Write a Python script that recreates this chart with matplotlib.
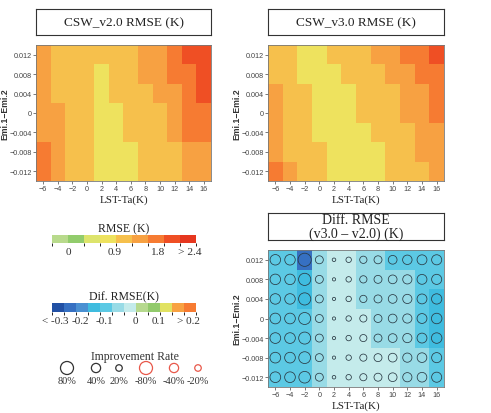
import numpy as np
import matplotlib
matplotlib.use("Agg")
import matplotlib.pyplot as plt
import matplotlib as mpl
from matplotlib.colors import ListedColormap, BoundaryNorm

SERIF = "Liberation Serif"
SANS = "Liberation Sans"

lst_ta = [-6, -4, -2, 0, 2, 4, 6, 8, 10, 12, 14, 16]
emi_diff = [-0.012, -0.008, -0.004, 0, 0.004, 0.008, 0.012]
emi_labels = ["\u22120.012", "\u22120.008", "\u22120.004", "0", "0.004", "0.008", "0.012"]

# rows from top (0.012) to bottom (-0.012)
rmse_v20 = [
    [1.35, 1.05, 1.05, 1.05, 1.05, 1.05, 1.05, 1.35, 1.35, 1.65, 1.95, 1.95],
    [1.35, 1.05, 1.05, 1.05, 0.75, 1.05, 1.05, 1.35, 1.35, 1.65, 1.65, 1.95],
    [1.35, 1.05, 1.05, 1.05, 0.75, 1.05, 1.05, 1.05, 1.35, 1.35, 1.65, 1.95],
    [1.35, 1.35, 1.05, 1.05, 0.75, 0.75, 1.05, 1.05, 1.05, 1.35, 1.65, 1.65],
    [1.35, 1.35, 1.05, 1.05, 0.75, 0.75, 1.05, 1.05, 1.05, 1.35, 1.65, 1.65],
    [1.65, 1.35, 1.05, 1.05, 0.75, 0.75, 0.75, 1.05, 1.05, 1.05, 1.35, 1.35],
    [1.65, 1.35, 1.05, 1.05, 0.75, 0.75, 0.75, 1.05, 1.05, 1.05, 1.35, 1.35],
]
rmse_v30 = [
    [1.05, 1.05, 0.75, 0.75, 1.05, 1.05, 1.05, 1.35, 1.35, 1.65, 1.65, 1.95],
    [1.05, 1.05, 0.75, 0.75, 0.75, 1.05, 1.05, 1.05, 1.35, 1.35, 1.65, 1.65],
    [1.35, 1.05, 1.05, 0.75, 0.75, 0.75, 1.05, 1.05, 1.05, 1.35, 1.35, 1.65],
    [1.35, 1.05, 1.05, 0.75, 0.75, 0.75, 1.05, 1.05, 1.05, 1.35, 1.35, 1.65],
    [1.35, 1.05, 1.05, 0.75, 0.75, 0.75, 0.75, 1.05, 1.05, 1.05, 1.35, 1.35],
    [1.35, 1.05, 1.05, 1.05, 0.75, 0.75, 0.75, 0.75, 1.05, 1.05, 1.35, 1.35],
    [1.65, 1.35, 1.05, 1.05, 0.75, 0.75, 0.75, 0.75, 1.05, 1.05, 1.05, 1.35],
]
diff_rmse = [
    [-0.12, -0.12, -0.27, -0.07, -0.02, -0.02, -0.07, -0.07, -0.12, -0.12, -0.12, -0.12],
    [-0.12, -0.12, -0.17, -0.07, -0.02, -0.02, -0.07, -0.07, -0.07, -0.07, -0.12, -0.12],
    [-0.12, -0.12, -0.17, -0.07, -0.02, -0.02, -0.07, -0.07, -0.07, -0.07, -0.12, -0.17],
    [-0.12, -0.12, -0.12, -0.07, -0.02, -0.02, -0.02, -0.07, -0.07, -0.07, -0.12, -0.17],
    [-0.12, -0.12, -0.12, -0.07, -0.02, -0.02, -0.02, -0.07, -0.07, -0.07, -0.12, -0.17],
    [-0.12, -0.12, -0.12, -0.07, -0.02, -0.02, -0.02, -0.02, -0.02, -0.07, -0.07, -0.12],
    [-0.12, -0.12, -0.12, -0.07, -0.02, -0.02, -0.02, -0.02, -0.02, -0.07, -0.07, -0.12],
]
# improvement rate (%)
improve_rate = [
    [52, 52, 82, 30, 6, 14, 25, 30, 36, 42, 46, 48],
    [52, 52, 70, 30, 5, 14, 25, 30, 36, 40, 46, 48],
    [52, 52, 70, 30, 5, 14, 25, 30, 36, 40, 46, 50],
    [54, 54, 68, 30, 5, 14, 24, 30, 36, 40, 46, 52],
    [54, 54, 68, 30, 5, 14, 24, 30, 36, 40, 46, 52],
    [54, 54, 66, 30, 5, 14, 24, 30, 36, 40, 44, 48],
    [54, 54, 64, 30, 6, 14, 24, 30, 36, 40, 44, 48],
]

rmse_levels = [-0.3, 0, 0.3, 0.6, 0.9, 1.2, 1.5, 1.8, 2.1, 2.4]
rmse_colors = ["#b8da8c", "#92cc6c", "#dde46c", "#eee25e", "#f6c04c",
               "#f7a142", "#f67b32", "#ef4f24", "#e6371f"]
rmse_tick_pos = [0, 0.88, 1.68, 2.29]
rmse_tick_labels = ["0", "0.9", "1.8", "> 2.4"]

dif_levels = [-0.35, -0.3, -0.25, -0.2, -0.15, -0.1, -0.05, 0, 0.05, 0.1, 0.15, 0.2, 0.25]
dif_colors = ["#2150a4", "#3670c2", "#4a90d2", "#3fbcdf", "#5cc9e4", "#98dbe6",
              "#c4ebeb", "#b6d98e", "#92ca6c", "#e1e262", "#f8a242", "#f77b32"]
dif_tick_pos = [-0.335, -0.23, -0.133, -0.004, 0.092, 0.217]
dif_tick_labels = ["< -0.3", "-0.2", "-0.1", "0", "0.1", "> 0.2"]

legend_rates = [80, 40, 20, -80, -40, -20]
legend_labels = ["80%", "40%", "20%", "-80%", "-40%", "-20%"]

rmse_cmap = ListedColormap(rmse_colors)
rmse_norm = BoundaryNorm(rmse_levels, rmse_cmap.N)
dif_cmap = ListedColormap(dif_colors)
dif_norm = BoundaryNorm(dif_levels, dif_cmap.N)

W, H = 491, 414
fig = plt.figure(figsize=(W / 100, H / 100), dpi=100)


def px_axes(x0, y0, x1, y1):
    return fig.add_axes([x0 / W, 1 - y1 / H, (x1 - x0) / W, (y1 - y0) / H])


x = np.array(lst_ta, dtype=float)
y = np.array(emi_diff)
xe = np.append(x - 1, x[-1] + 1)
ye = np.append(y - 0.002, y[-1] + 0.002)


def heat(ax, data, cmap, norm):
    ax.pcolormesh(xe, ye, np.array(data)[::-1], cmap=cmap, norm=norm)
    ax.set_xticks(lst_ta)
    ax.set_xticklabels([str(v).replace("-", "\u2212") for v in lst_ta])
    ax.set_yticks(emi_diff)
    ax.set_yticklabels(emi_labels)
    ax.tick_params(labelsize=5.2, colors="#444444", length=2, width=0.5, pad=1.2)
    for t in ax.get_xticklabels() + ax.get_yticklabels():
        t.set_fontfamily(SANS)
    for s in ax.spines.values():
        s.set_color("#777777")
        s.set_linewidth(0.6)
    ax.set_xlabel("LST-Ta(K)", fontfamily=SERIF, fontsize=8, color="#222222", labelpad=1.5)
    ax.set_ylabel("Emi.1\u2212Emi.2", fontfamily=SANS, fontsize=6.2, fontweight="bold",
                  color="#333333")
    ax.yaxis.set_label_coords(-0.152, 0.5)


def title_box(x0, y0, x1, y1, text, fs=9.5, ls=1.2):
    tb = px_axes(x0, y0, x1, y1)
    tb.set_xticks([])
    tb.set_yticks([])
    for s in tb.spines.values():
        s.set_color("#333333")
        s.set_linewidth(0.8)
    tb.text(0.5, 0.5, text, ha="center", va="center", fontfamily=SERIF,
            fontsize=fs, color="#222222", linespacing=ls, transform=tb.transAxes)


ax1 = px_axes(36, 46, 211, 182)
heat(ax1, rmse_v20, rmse_cmap, rmse_norm)
title_box(36, 10, 211, 36, "CSW_v2.0 RMSE (K)")

ax2 = px_axes(268, 46, 444, 182)
heat(ax2, rmse_v30, rmse_cmap, rmse_norm)
title_box(268, 10, 444, 36, "CSW_v3.0 RMSE (K)")

ax3 = px_axes(268, 251, 444, 388)
heat(ax3, diff_rmse, dif_cmap, dif_norm)
xx, yy = np.meshgrid(x, y)
rate = np.array(improve_rate)[::-1]
ax3.scatter(xx.ravel(), yy.ravel(), s=np.abs(rate.ravel()) * 1.1,
            facecolors="none", edgecolors="#2a3a44", linewidths=0.55)
ax3.set_xlim(xe[0], xe[-1])
ax3.set_ylim(ye[0], ye[-1])
title_box(268, 214, 444, 241, "Diff. RMSE\n(v3.0 \u2013 v2.0) (K)", fs=10, ls=1.0)

# colorbars
cax1 = px_axes(52, 236, 196, 244)
cb1 = mpl.colorbar.ColorbarBase(cax1, cmap=rmse_cmap, norm=rmse_norm,
                                orientation="horizontal", boundaries=rmse_levels,
                                ticks=rmse_tick_pos)
cb1.set_ticklabels(rmse_tick_labels)
cb1.outline.set_visible(False)
cax1.tick_params(length=0, labelsize=8.2, pad=3, colors="#333333")
cax1.set_title("RMSE (K)", fontfamily=SERIF, fontsize=8.5, color="#222222", pad=3)

cax2 = px_axes(52, 304, 196, 313)
cb2 = mpl.colorbar.ColorbarBase(cax2, cmap=dif_cmap, norm=dif_norm,
                                orientation="horizontal", boundaries=dif_levels,
                                ticks=dif_tick_pos)
cb2.set_ticklabels(dif_tick_labels)
cb2.outline.set_visible(False)
cax2.tick_params(length=0, labelsize=8, pad=3, colors="#333333")
cax2.set_title("Dif. RMSE(K)", fontfamily=SERIF, fontsize=8.5, color="#222222", pad=3)

for cax in (cax1, cax2):
    for t in cax.get_xticklabels():
        t.set_fontfamily(SERIF)

# improvement rate legend
lax = px_axes(0, 314, 245, 414)
lax.set_xlim(0, 245)
lax.set_ylim(414, 314)
lax.axis("off")
lx = [67, 96, 119, 146, 174, 198]
lcol = ["#333333"] * 3 + ["#e8584a"] * 3
lax.scatter(lx, [369] * 6, s=np.abs(legend_rates) * 1.1, facecolors="none",
            edgecolors=lcol, linewidths=0.9)
for xi, lab in zip(lx, legend_labels):
    lax.text(xi, 381, lab, ha="center", va="center", fontfamily=SERIF,
             fontsize=7.5, color="#333333")
lax.text(135, 357, "Improvement Rate", ha="center", va="center", fontfamily=SERIF,
         fontsize=8.5, color="#333333")

fig.savefig("out.png", dpi=100)
